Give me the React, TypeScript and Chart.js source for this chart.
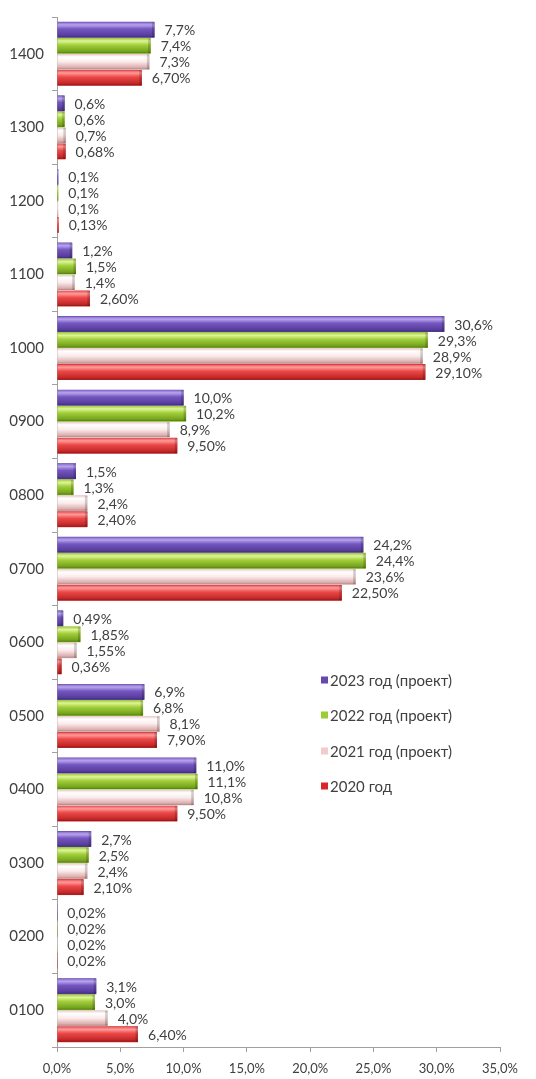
import React, { useEffect, useRef } from "react";
import { Chart, registerables } from "chart.js";

Chart.register(...registerables);

const categories = ["1400", "1300", "1200", "1100", "1000", "0900", "0800", "0700", "0600", "0500", "0400", "0300", "0200", "0100"];

const seriesNames = ["2023 год (проект)", "2022 год (проект)", "2021 год (проект)", "2020 год"];

const values2023 = [7.7, 0.6, 0.1, 1.2, 30.6, 10.0, 1.5, 24.2, 0.49, 6.9, 11.0, 2.7, 0.02, 3.1];
const values2022 = [7.4, 0.6, 0.1, 1.5, 29.3, 10.2, 1.3, 24.4, 1.85, 6.8, 11.1, 2.5, 0.02, 3.0];
const values2021 = [7.3, 0.7, 0.1, 1.4, 28.9, 8.9, 2.4, 23.6, 1.55, 8.1, 10.8, 2.4, 0.02, 4.0];
const values2020 = [6.7, 0.68, 0.13, 2.6, 29.1, 9.5, 2.4, 22.5, 0.36, 7.9, 9.5, 2.1, 0.02, 6.4];

const labels2023 = ["7,7%", "0,6%", "0,1%", "1,2%", "30,6%", "10,0%", "1,5%", "24,2%", "0,49%", "6,9%", "11,0%", "2,7%", "0,02%", "3,1%"];
const labels2022 = ["7,4%", "0,6%", "0,1%", "1,5%", "29,3%", "10,2%", "1,3%", "24,4%", "1,85%", "6,8%", "11,1%", "2,5%", "0,02%", "3,0%"];
const labels2021 = ["7,3%", "0,7%", "0,1%", "1,4%", "28,9%", "8,9%", "2,4%", "23,6%", "1,55%", "8,1%", "10,8%", "2,4%", "0,02%", "4,0%"];
const labels2020 = ["6,70%", "0,68%", "0,13%", "2,60%", "29,10%", "9,50%", "2,40%", "22,50%", "0,36%", "7,90%", "9,50%", "2,10%", "0,02%", "6,40%"];

const xTickValues = [0, 5, 10, 15, 20, 25, 30, 35];

const legendColors = ["#6549ad", "#9ccc34", "#f1cccc", "#d8282c"];
const gradientStops: [number, string][][] = [
  [[0, "#7d62c4"], [0.2, "#b8a3ec"], [0.45, "#7456c0"], [0.85, "#583d9c"], [1, "#3b2870"]],
  [[0, "#98c436"], [0.2, "#def598"], [0.45, "#a3cf3b"], [0.85, "#74a31e"], [1, "#4c7311"]],
  [[0, "#e6c4c4"], [0.2, "#ffffff"], [0.5, "#fbeaea"], [0.85, "#dbafaf"], [1, "#a37a7a"]],
  [[0, "#e24a4a"], [0.2, "#ff9a9a"], [0.45, "#ec4848"], [0.85, "#c22828"], [1, "#861313"]],
];

const FONT = "Lato, 'Open Sans', sans-serif";
const TEXT = "#404040";

const fmtPct = (v: number) => v.toFixed(1).replace(".", ",") + "%";

export default function App() {
  const ref = useRef<HTMLCanvasElement | null>(null);

  useEffect(() => {
    if (!ref.current) return;
    const allLabels = [labels2023, labels2022, labels2021, labels2020];

    const barPlugin = {
      id: "barLook",
      afterDatasetsDraw(chart: any) {
        const ctx = chart.ctx as CanvasRenderingContext2D;
        ctx.save();
        chart.data.datasets.forEach((_: any, di: number) => {
          const meta = chart.getDatasetMeta(di);
          meta.data.forEach((bar: any, j: number) => {
            const p = bar.getProps(["x", "y", "base", "height"], true);
            const left = Math.min(p.base, p.x);
            const w = Math.abs(p.x - p.base);
            const top = p.y - p.height / 2;
            const g = ctx.createLinearGradient(0, top, 0, top + p.height);
            gradientStops[di].forEach(([o, c]) => g.addColorStop(o, c));
            ctx.fillStyle = g;
            ctx.fillRect(left, top + 0.5, w, p.height - 1);
            if (w > 3) {
              ctx.fillStyle = "rgba(0,0,0,0.18)";
              ctx.fillRect(left + w - 2.5, top + 0.5, 2.5, p.height - 1);
            }
            ctx.fillStyle = TEXT;
            ctx.font = `14px ${FONT}`;
            ctx.textAlign = "left";
            ctx.textBaseline = "middle";
            ctx.fillText(allLabels[di][j], p.x + 10, p.y + 1);
          });
        });
        ctx.restore();
      },
    };

    const legendPlugin = {
      id: "customLegend",
      afterDraw(chart: any) {
        const ctx = chart.ctx as CanvasRenderingContext2D;
        const area = chart.chartArea;
        const sx = area.left + 264;
        const rows = [680, 715, 751, 786];
        ctx.save();
        ctx.font = `15px ${FONT}`;
        ctx.textBaseline = "middle";
        ctx.textAlign = "left";
        seriesNames.forEach((name, i) => {
          const cy = rows[i];
          ctx.fillStyle = legendColors[i];
          ctx.fillRect(sx, cy - 3.5, 7, 7);
          ctx.fillStyle = TEXT;
          ctx.fillText(name, sx + 9, cy + 1);
        });
        ctx.restore();
      },
    };

    const chart = new Chart(ref.current, {
      type: "bar",
      data: {
        labels: categories,
        datasets: [values2023, values2022, values2021, values2020].map((d, i) => ({
          label: seriesNames[i],
          data: d,
          backgroundColor: legendColors[i],
          borderWidth: 0,
          categoryPercentage: 0.87,
          barPercentage: 1.0,
        })),
      },
      options: {
        indexAxis: "y",
        animation: false,
        responsive: true,
        maintainAspectRatio: false,
        layout: { padding: { top: 13, right: 36, bottom: 0, left: 0 } },
        plugins: {
          legend: { display: false },
          tooltip: { enabled: false },
        },
        scales: {
          y: {
            type: "category",
            offset: true,
            grid: {
              display: true,
              drawOnChartArea: false,
              drawTicks: true,
              tickLength: 5,
              color: "#a0a0a0",
              offset: true,
            },
            border: { display: true, color: "#a0a0a0" },
            ticks: { font: { family: FONT, size: 15 }, color: TEXT, padding: 8 },
            afterFit: (s: any) => {
              s.width = 57;
            },
          },
          x: {
            type: "linear",
            min: 0,
            max: 35,
            afterBuildTicks: (s: any) => {
              s.ticks = xTickValues.map((v) => ({ value: v }));
            },
            grid: {
              display: true,
              drawOnChartArea: false,
              drawTicks: true,
              tickLength: 5,
              color: "#a0a0a0",
            },
            border: { display: true, color: "#a0a0a0" },
            ticks: {
              font: { family: FONT, size: 13 },
              color: TEXT,
              padding: 9,
              maxRotation: 0,
              callback: (v: any) => fmtPct(Number(v)),
            },
            afterFit: (s: any) => {
              s.height = 32;
            },
          },
        },
      },
      plugins: [barPlugin, legendPlugin],
    });
    return () => chart.destroy();
  }, []);

  return (
    <div style={{ position: "fixed", left: 0, top: 0, width: 536, height: 1079, background: "#fff" }}>
      <canvas ref={ref} />
    </div>
  );
}
